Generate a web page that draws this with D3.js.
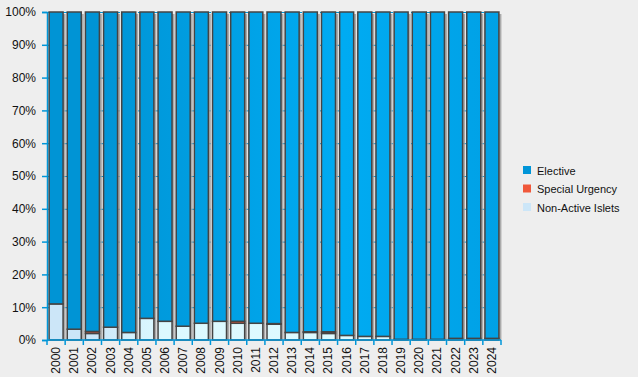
<!DOCTYPE html>
<html>
<head>
<meta charset="utf-8">
<script src="https://cdn.jsdelivr.net/npm/d3@7"></script>
<style>
  body { margin: 0; background: #eeeeee; }
  svg { display: block; font-family: "Liberation Sans", Arial, sans-serif; }
</style>
</head>
<body>
<svg id="chart" width="638" height="377"></svg>
<script>
const years = ['2000','2001','2002','2003','2004','2005','2006','2007','2008','2009','2010','2011','2012',
  '2013','2014','2015','2016','2017','2018','2019','2020','2021','2022','2023','2024']
const nonActive = [11, 3.3, 2.0, 3.9, 2.3, 6.6, 5.7, 4.2, 5.1, 5.7, 5.1, 5.1, 4.8,
  2.3, 2.3, 2.0, 1.4, 1.1, 1.1, 0.2, 0.2, 0.2, 0.5, 0.5, 0.5]
const specialUrgency = [0, 0, 0.6, 0, 0, 0, 0, 0, 0, 0, 0.6, 0, 0.2,
  0, 0.2, 0.5, 0, 0, 0, 0, 0, 0, 0, 0, 0]
const elective = years.map((y, i) => 100 - nonActive[i] - specialUrgency[i])
const seriesNames = ['Elective', 'Special Urgency', 'Non-Active Islets']
const yTicks = [0, 10, 20, 30, 40, 50, 60, 70, 80, 90, 100]

const svg = d3.select('#chart')
const margin = {left: 47, right: 137, top: 12, bottom: 37}
const width = 638 - margin.left - margin.right
const height = 377 - margin.top - margin.bottom
const axisColor = '#0096d8'

const defs = svg.append('defs')
function hGrad(id, stops) {
  const g = defs.append('linearGradient').attr('id', id)
    .attr('gradientUnits', 'userSpaceOnUse')
    .attr('x1', margin.left).attr('x2', margin.left + width).attr('y1', 0).attr('y2', 0)
  stops.forEach(s => g.append('stop').attr('offset', s[0]).attr('stop-color', s[1]))
}
hGrad('gElective', [[0, '#0094d5'], [0.55, '#00abf2'], [1, '#009ee2']])
hGrad('gNonActive', [[0, '#cce6f8'], [0.15, '#dcf9ff'], [1, '#e0fbff']])

const x = d3.scaleBand().domain(years).range([0, width]).paddingInner(0.23).paddingOuter(0.115)
const y = d3.scaleLinear().domain([0, 100]).range([height, 0])

const g = svg.append('g').attr('transform', `translate(${margin.left},${margin.top})`)

// dashed grid lines behind the bars
g.append('g').selectAll('line').data(yTicks.slice(1)).join('line')
  .attr('x1', 0).attr('x2', width)
  .attr('y1', d => y(d) + 0.5).attr('y2', d => y(d) + 0.5)
  .attr('stroke', axisColor).attr('stroke-width', 1)
  .attr('stroke-dasharray', '8,5')

const rows = years.map((yr, i) => ({year: yr, na: nonActive[i], su: specialUrgency[i], el: elective[i]}))
const stack = d3.stack().keys(['na', 'su', 'el'])(rows)
const fills = {na: 'url(#gNonActive)', su: '#f0583a', el: 'url(#gElective)'}

// bar shadows
g.append('g').selectAll('rect').data(rows).join('rect')
  .attr('x', d => x(d.year) + 2.5).attr('y', y(100) + 2)
  .attr('width', x.bandwidth()).attr('height', height - 2)
  .attr('fill', '#9a9a9a').attr('opacity', 0.8)

stack.forEach(layer => {
  g.append('g').selectAll('rect').data(layer.filter(d => d[1] - d[0] > 0)).join('rect')
    .attr('x', d => x(d.data.year)).attr('y', d => y(d[1]))
    .attr('width', x.bandwidth()).attr('height', d => y(d[0]) - y(d[1]))
    .attr('fill', fills[layer.key])
    .attr('stroke', '#444').attr('stroke-width', 1.5)
})

// y axis
const yAxis = g.append('g')
  .call(d3.axisLeft(y).tickValues(yTicks).tickFormat(d => d + '%').tickSize(5).tickPadding(6))
yAxis.select('.domain').attr('stroke', axisColor).attr('stroke-width', 1.5)
yAxis.selectAll('.tick line').attr('stroke', axisColor).attr('stroke-width', 1.5)
yAxis.selectAll('.tick text').attr('fill', '#111').style('font-size', '12px')

// x axis with ticks at band edges
const xAxis = g.append('g').attr('transform', `translate(0,${height})`)
xAxis.append('line').attr('x1', 0).attr('x2', width).attr('y1', 0).attr('y2', 0)
  .attr('stroke', axisColor).attr('stroke-width', 1.5)
const step = x.step()
xAxis.selectAll('line.edge').data(d3.range(years.length + 1)).join('line')
  .attr('class', 'edge')
  .attr('x1', i => x(years[0]) - (x(years[0]) - 0) + i * (width / years.length))
  .attr('x2', i => i * (width / years.length))
  .attr('y1', 0).attr('y2', 5)
  .attr('stroke', axisColor).attr('stroke-width', 1.5)
xAxis.selectAll('text').data(years).join('text')
  .attr('transform', d => `translate(${x(d) + x.bandwidth() / 2 + 4},7) rotate(-90)`)
  .attr('text-anchor', 'end')
  .attr('fill', '#111').style('font-size', '12px')
  .text(d => d)

// legend
const legendColors = ['#0095d8', '#f0583a', '#cce6f8']
const legend = svg.append('g').attr('transform', 'translate(523,166)')
seriesNames.forEach((name, i) => {
  const row = legend.append('g').attr('transform', `translate(0,${i * 18.5})`)
  row.append('rect').attr('width', 8).attr('height', 8).attr('fill', legendColors[i])
  row.append('text').attr('x', 14).attr('y', 8.5).attr('fill', '#111')
    .style('font-size', '11px').text(name)
})
</script>
</body>
</html>
